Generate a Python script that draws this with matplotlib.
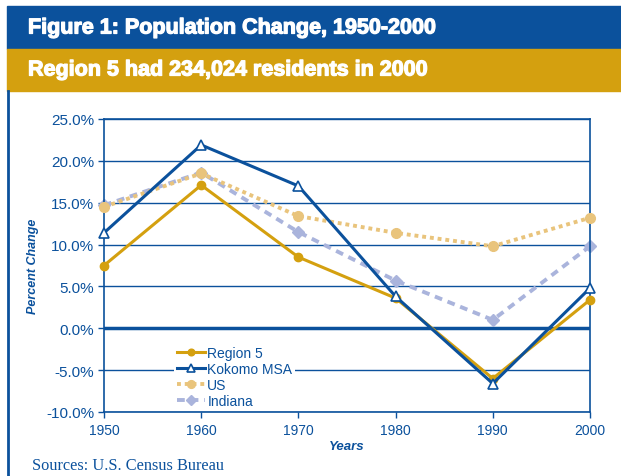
import matplotlib
matplotlib.use("Agg")
import matplotlib.pyplot as plt
from matplotlib.patches import Rectangle
from matplotlib.lines import Line2D
import matplotlib.patheffects as pe

years = [1950, 1960, 1970, 1980, 1990, 2000]
region5 = [7.5, 17.1, 8.5, 3.6, -6.0, 3.4]
kokomo = [11.4, 21.9, 17.0, 3.8, -6.6, 4.8]
us = [14.5, 18.5, 13.4, 11.4, 9.8, 13.2]
indiana = [14.7, 18.6, 11.5, 5.7, 1.0, 9.8]
yticks = [-10, -5, 0, 5, 10, 15, 20, 25]

BLUE = "#0B519C"
GOLD = "#D4A00F"
US_C = "#E9C47C"
IN_C = "#AAB4DC"

fig = plt.figure(figsize=(6.21, 4.77), dpi=100)
W, H = 621, 477

def fx(px):
    return px / W

def fy(py):
    return 1 - py / H

# Banners
fig.patches.append(Rectangle((fx(7), fy(50)), 1 - fx(7), (50 - 7) / H,
                             transform=fig.transFigure, color=BLUE, zorder=0))
fig.patches.append(Rectangle((fx(7), fy(92)), 1 - fx(7), (92 - 50) / H,
                             transform=fig.transFigure, color=GOLD, zorder=0))
fig.lines.append(Line2D([fx(8), fx(8)], [fy(92), 0], transform=fig.transFigure,
                        color=BLUE, lw=2))
heavy = [pe.withStroke(linewidth=0.9, foreground="white")]
fig.text(fx(28), fy(29), "Figure 1: Population Change, 1950-2000", color="white",
         fontsize=15.5, fontweight="bold", family="Liberation Sans", va="center",
         ha="left", path_effects=heavy)
fig.text(fx(28), fy(71), "Region 5 had 234,024 residents in 2000", color="white",
         fontsize=15.5, fontweight="bold", family="Liberation Sans", va="center",
         ha="left", path_effects=heavy)
fig.text(fx(32), fy(466), "Sources: U.S. Census Bureau", color=BLUE,
         fontsize=11.8, family="Liberation Serif", va="center", ha="left")

ax = fig.add_axes([fx(104), fy(413), fx(590) - fx(104), (413 - 120) / H])
ax.set_xlim(1950, 2000)
ax.set_ylim(-10, 25)

for y in yticks:
    ax.axhline(y, color=BLUE, lw=2.5 if y == 0 else 1.0, zorder=1)

ax.plot(years, region5, color=GOLD, lw=2.2, marker="o", ms=6, label="Region 5", zorder=4, clip_on=False)
ax.plot(years, kokomo, color=BLUE, lw=2.2, marker="^", ms=7, mfc="white", mec=BLUE,
        mew=1.2, label="Kokomo MSA", zorder=5, clip_on=False)
ax.plot(years, us, color=US_C, lw=2.8, ls=(0, (1, 1)), marker="o", ms=7,
        label="US", zorder=3, clip_on=False)
ax.plot(years, indiana, color=IN_C, lw=2.8, ls=(0, (2, 1.5)), marker="D", ms=6,
        label="Indiana", zorder=2, clip_on=False)

ax.set_yticks(yticks)
ax.set_yticklabels([f"{v:.1f}%" for v in yticks])
ax.set_xticks(years)
for s in ["left", "right", "bottom", "top"]:
    ax.spines[s].set_color(BLUE)
    ax.spines[s].set_linewidth(1.2)
ax.tick_params(axis="both", colors=BLUE, labelcolor=BLUE, labelsize=10,
               length=4, width=1.0, direction="out")
ax.tick_params(axis="y", labelsize=11, pad=3)
ax.tick_params(axis="x", pad=4)
for lab in ax.get_xticklabels() + ax.get_yticklabels():
    lab.set_family("Liberation Sans")

ax.set_ylabel("Percent Change", color=BLUE, fontsize=9, fontweight="bold",
              fontstyle="italic", family="Liberation Sans", labelpad=5)
ax.set_xlabel("Years", color=BLUE, fontsize=9.5, fontweight="bold",
              fontstyle="italic", family="Liberation Sans", labelpad=2)

leg = ax.legend(loc="upper left", bbox_to_anchor=((174 - 104) / 486, (413 - 344) / 293),
                frameon=True, fancybox=False, edgecolor="none", facecolor="white",
                framealpha=1, fontsize=10, handlelength=2.0, handletextpad=0.2,
                labelspacing=0.15, borderpad=0.2, borderaxespad=0, markerscale=0.8)
leg.set_zorder(6)
for t in leg.get_texts():
    t.set_color(BLUE)
    t.set_family("Liberation Sans")

fig.savefig("out.png", dpi=100)
